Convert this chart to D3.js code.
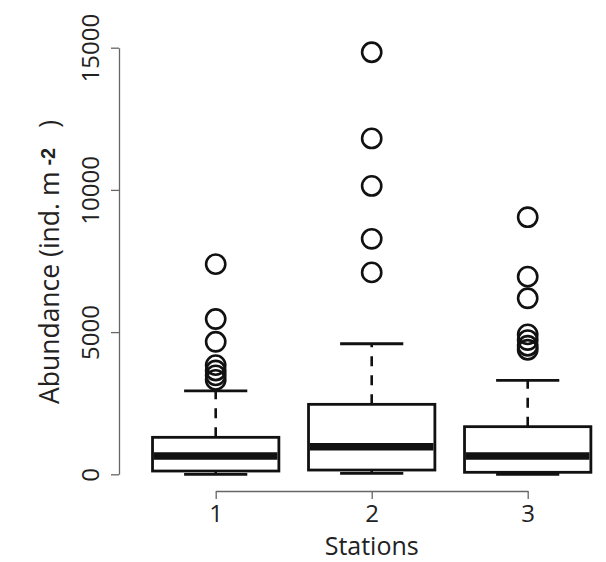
<!DOCTYPE html>
<html>
<head>
<meta charset="utf-8">
<script src="https://cdn.jsdelivr.net/npm/d3@7"></script>
<style>
  html, body { margin: 0; padding: 0; background: #fff; }
  svg { display: block; }
  text { font-family: "Open Sans", "Noto Sans", sans-serif; fill: #222; }
</style>
</head>
<body>
<svg id="chart" width="606" height="562"></svg>
<script>
// Station boxplot summaries (abundance, ind. m^-2)
const stations = ["1", "2", "3"];
const lowerWhisker = [0, 35, 0];
const lowerQuartile = [115, 150, 70];
const medians = [645, 970, 645];
const upperQuartile = [1300, 2460, 1675];
const upperWhisker = [2930, 4590, 3305];
const outliers1 = [7390, 5460, 4660, 3840, 3650, 3480, 3320];
const outliers2 = [14840, 11810, 10140, 8280, 7100];
const outliers3 = [9040, 6950, 6190, 4920, 4720, 4520, 4380];
const yTicks = [0, 5000, 10000, 15000];

const outliers = [outliers1, outliers2, outliers3];
const boxes = stations.map((s, i) => ({
  station: s,
  lo: lowerWhisker[i],
  q1: lowerQuartile[i],
  med: medians[i],
  q3: upperQuartile[i],
  hi: upperWhisker[i],
  out: outliers[i]
}));

const svg = d3.select("#chart");

const x = d3.scalePoint().domain(stations).range([215.7, 527.7]);
const y = d3.scaleLinear().domain([0, 15000]).range([474.3, 47.7]);

const boxW = x.step() * 0.81;
const capW = boxW / 2;
const stroke = "#111";

// Axes
const yAxis = svg.append("g")
  .attr("transform", "translate(119,0)")
  .call(d3.axisLeft(y).tickValues(yTicks).tickSize(8).tickSizeOuter(0).tickFormat(d3.format("d")));
yAxis.selectAll("text")
  .attr("x", null).attr("dy", null)
  .attr("transform", "translate(-20,0) rotate(-90)")
  .attr("text-anchor", "middle")
  .style("font-size", "24px");

const xAxis = svg.append("g")
  .attr("transform", "translate(0,491)")
  .call(d3.axisBottom(x).tickSize(8).tickSizeOuter(0).tickPadding(6));
xAxis.selectAll("text").style("font-size", "24px");

svg.selectAll(".domain, .tick line")
  .attr("stroke", "#666")
  .attr("stroke-width", 1.3);

// Boxes
const g = svg.append("g").selectAll("g").data(boxes).join("g");

// dashed whiskers
g.append("line")
  .attr("x1", d => x(d.station)).attr("x2", d => x(d.station))
  .attr("y1", d => y(d.q3)).attr("y2", d => y(d.hi))
  .attr("stroke", stroke).attr("stroke-width", 2.6)
  .attr("stroke-dasharray", "10,9");
g.append("line")
  .attr("x1", d => x(d.station)).attr("x2", d => x(d.station))
  .attr("y1", d => y(d.q1)).attr("y2", d => y(d.lo))
  .attr("stroke", stroke).attr("stroke-width", 2.6)
  .attr("stroke-dasharray", "10,9");

// caps
g.selectAll(".cap")
  .data(d => [d.hi, d.lo].map(v => ({ station: d.station, v })))
  .join("line")
  .attr("class", "cap")
  .attr("x1", d => x(d.station) - capW / 2).attr("x2", d => x(d.station) + capW / 2)
  .attr("y1", d => y(d.v)).attr("y2", d => y(d.v))
  .attr("stroke", stroke).attr("stroke-width", 2.8);

// box
g.append("rect")
  .attr("x", d => x(d.station) - boxW / 2)
  .attr("width", boxW)
  .attr("y", d => y(d.q3))
  .attr("height", d => y(d.q1) - y(d.q3))
  .attr("fill", "#fff")
  .attr("stroke", stroke).attr("stroke-width", 2.8);

// median
g.append("line")
  .attr("x1", d => x(d.station) - boxW / 2 + 1.4).attr("x2", d => x(d.station) + boxW / 2 - 1.4)
  .attr("y1", d => y(d.med)).attr("y2", d => y(d.med))
  .attr("stroke", stroke).attr("stroke-width", 7.5);

// outliers
g.selectAll("circle")
  .data(d => d.out.map(v => ({ station: d.station, v })))
  .join("circle")
  .attr("cx", d => x(d.station))
  .attr("cy", d => y(d.v))
  .attr("r", 9.6)
  .attr("fill", "none")
  .attr("stroke", stroke).attr("stroke-width", 2.6);

// Axis titles
svg.append("text")
  .attr("x", 371.7).attr("y", 555)
  .attr("text-anchor", "middle")
  .style("font-size", "25px")
  .text("Stations");

const yt = svg.append("text")
  .attr("transform", "translate(58.5,262) rotate(-90)")
  .attr("text-anchor", "middle")
  .style("font-size", "26.5px");
yt.append("tspan").text("Abundance (ind. m");
yt.append("tspan")
  .attr("dx", 6)
  .attr("dy", -4)
  .style("font-family", "'Liberation Sans', Arial, sans-serif")
  .style("font-weight", "bold")
  .style("font-size", "20px")
  .text("-2");
yt.append("tspan").attr("dx", 20).attr("dy", 4).text(")");
</script>
</body>
</html>
